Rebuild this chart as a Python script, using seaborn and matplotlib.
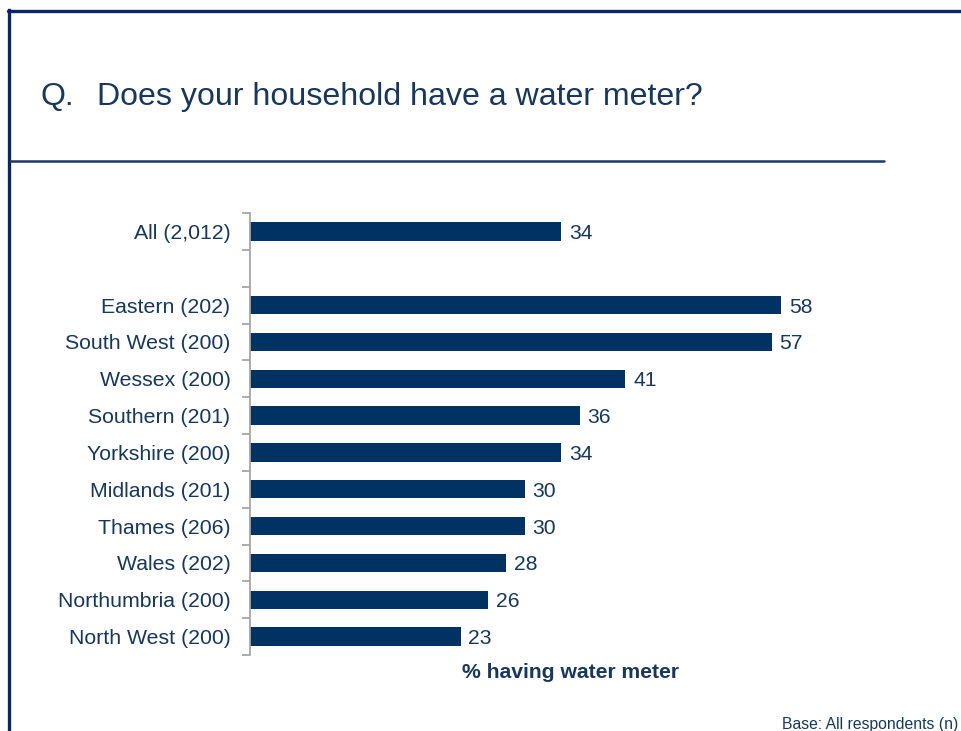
import matplotlib
matplotlib.use("Agg")
import matplotlib.pyplot as plt
from matplotlib.lines import Line2D
import seaborn as sns
import pandas as pd

# Survey results: share of households with a water meter, by water company
categories = ["All (2,012)", "Eastern (202)", "South West (200)", "Wessex (200)",
              "Southern (201)", "Yorkshire (200)", "Midlands (201)", "Thames (206)",
              "Wales (202)", "Northumbria (200)", "North West (200)"]
values = [34, 58, 57, 41, 36, 34, 30, 30, 28, 26, 23]
# display order, with a spacer row between the total and the regions
order = ["All (2,012)", " "] + categories[1:]

title_q = "Q."
title = "Does your household have a water meter?"
xlabel = "% having water meter"
footnote = "Base: All respondents (n)"

navy = "#003263"
text_navy = "#17375E"
frame_navy = "#0C2463"

sns.set_theme(style="white")
plt.rcParams["font.family"] = ["Liberation Sans", "DejaVu Sans"]

W, H = 961, 731
fig = plt.figure(figsize=(W / 100, H / 100), dpi=100)
ax = fig.add_axes([250 / W, 1 - 655 / H, (891 - 250) / W, (655 - 213) / H])

df = pd.DataFrame({"label": categories, "value": values})
sns.barplot(data=df, x="value", y="label", order=order, orient="h",
            color=navy, saturation=1, width=0.5, linewidth=0, ax=ax)

ax.set_xlim(0, 70)
ax.set_ylim(len(order) - 0.5, -0.5)

for cont in ax.containers:
    labels = ax.bar_label(cont, fmt="%d", padding=5.5, fontsize=15.2, color=text_navy)
    for t in labels:
        t.set_va("center_baseline")

# axis styling: grey left spine with boundary tick marks between rows
for side in ["top", "right", "bottom"]:
    ax.spines[side].set_visible(False)
ax.spines["left"].set_color("#A6A6A6")
ax.spines["left"].set_linewidth(1.3)
ax.tick_params(axis="y", which="major", left=False, length=0, pad=14,
               labelsize=15.3, labelcolor=text_navy)
ax.set_yticks([i - 0.5 for i in range(len(order) + 1)], minor=True)
ax.tick_params(axis="y", which="minor", left=True, length=6, width=1.3,
               color="#A6A6A6", direction="out")
ax.set_xticks([])
ax.set_ylabel("")
ax.set_xlabel(xlabel, fontsize=15.2, fontweight="bold", color=text_navy, labelpad=6)

# slide frame and title rule
fig.add_artist(Line2D([9 / W, 9 / W], [0, 1 - 10 / H], transform=fig.transFigure,
                      color=frame_navy, linewidth=2.4, solid_capstyle="projecting"))
fig.add_artist(Line2D([8 / W, 1], [1 - 11 / H, 1 - 11 / H], transform=fig.transFigure,
                      color=frame_navy, linewidth=2.4))
fig.add_artist(Line2D([10 / W, 884 / W], [1 - 161 / H, 1 - 161 / H],
                      transform=fig.transFigure, color="#1F3864", linewidth=1.8))

fig.text(40 / W, 1 - 105 / H, title_q, fontsize=23.1, color=text_navy,
         ha="left", va="baseline")
fig.text(97 / W, 1 - 105 / H, title, fontsize=23.1, color=text_navy,
         ha="left", va="baseline")
fig.text(782 / W, 1 - 729 / H, footnote, fontsize=11.3, color=text_navy,
         ha="left", va="baseline")

fig.savefig("out.png", dpi=100)
